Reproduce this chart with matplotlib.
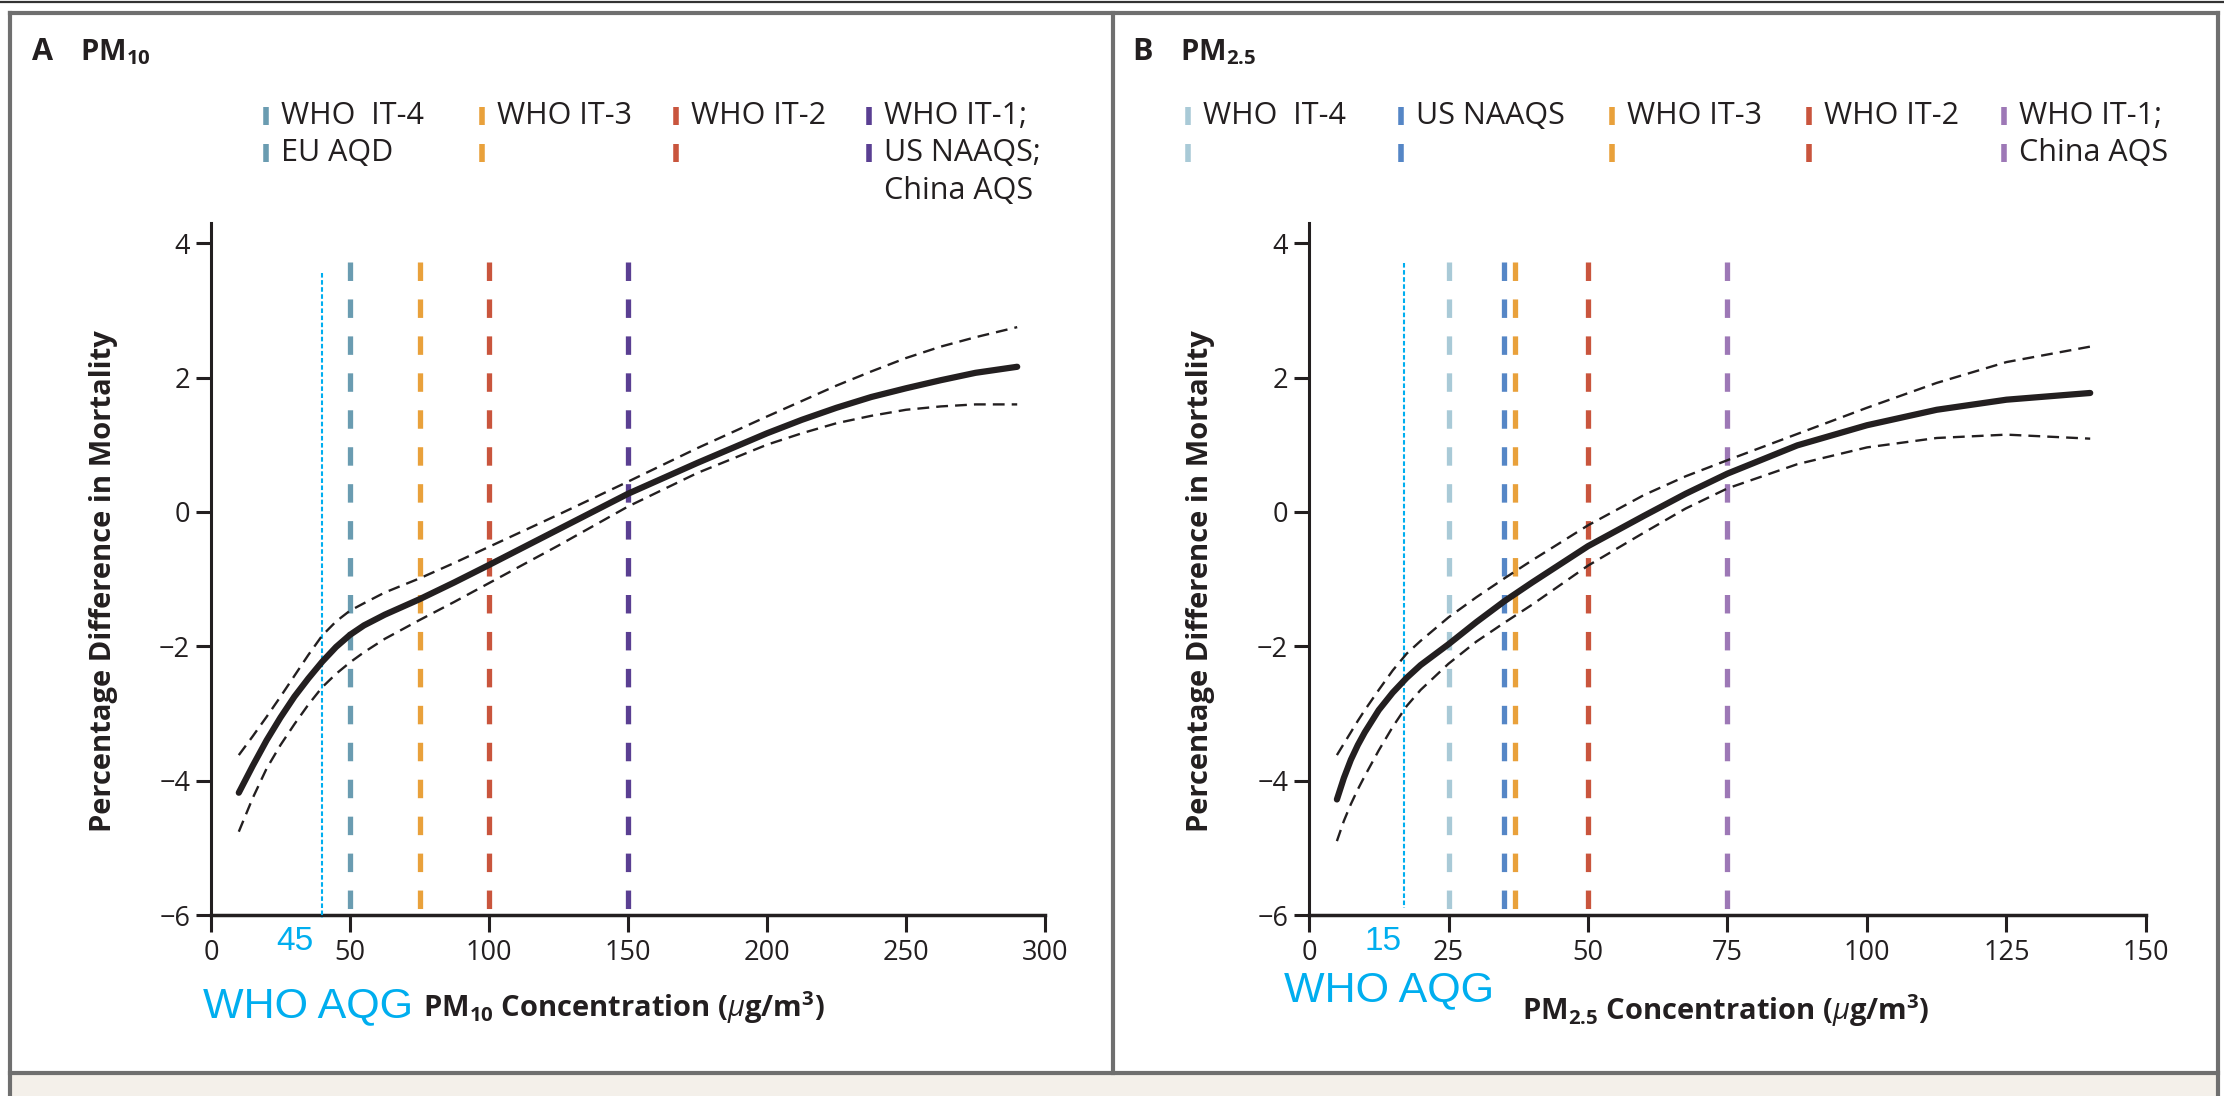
import matplotlib
matplotlib.use("Agg")
import matplotlib.pyplot as plt
from matplotlib.patches import Rectangle

plt.rcParams['font.family'] = ['Open Sans', 'DejaVu Sans']
plt.rcParams['mathtext.fontset'] = 'custom'
plt.rcParams['mathtext.rm'] = 'Open Sans'
plt.rcParams['mathtext.bf'] = 'Open Sans:bold'
plt.rcParams['mathtext.it'] = 'Open Sans:italic'

INK = "#231F20"
CYAN = "#00AEEF"

# ---- panel A: PM10 ----
pm10_x = [10, 15, 20, 25, 30, 35, 40, 45, 50, 55, 62.5, 75, 87.5, 100, 125, 150, 175, 200, 212.5,
          225, 237.5, 250, 262.5, 275, 290]
pm10_est = [-4.18, -3.78, -3.40, -3.06, -2.75, -2.48, -2.23, -2.01, -1.83, -1.69, -1.53, -1.30, -1.05,
            -0.79, -0.26, 0.27, 0.73, 1.17, 1.37, 1.55, 1.71, 1.84, 1.96, 2.07, 2.16]
pm10_upper = [-3.62, -3.34, -3.05, -2.75, -2.44, -2.13, -1.84, -1.63, -1.47, -1.36, -1.20, -0.99, -0.76,
              -0.52, -0.04, 0.45, 0.95, 1.42, 1.65, 1.88, 2.09, 2.29, 2.46, 2.60, 2.75]
pm10_lower = [-4.76, -4.26, -3.82, -3.47, -3.16, -2.87, -2.61, -2.41, -2.24, -2.09, -1.89, -1.61, -1.34,
              -1.06, -0.50, 0.08, 0.58, 1.00, 1.17, 1.32, 1.43, 1.52, 1.57, 1.60, 1.60]
pm10_std_x = [50, 75, 100, 150]
pm10_std_colors = ["#6A9CB1", "#E9A13B", "#C9553D", "#5A3F92"]
pm10_std_labels = [["WHO  IT-4", "EU AQD"], ["WHO IT-3"], ["WHO IT-2"],
                   ["WHO IT-1;", "US NAAQS;", "China AQS"]]
pm10_aqg_line = 40
pm10_aqg_label = "45"
pm10_xticks = [0, 50, 100, 150, 200, 250, 300]

# ---- panel B: PM2.5 ----
pm25_x = [5, 6.25, 7.5, 8.75, 10, 12.5, 15, 17.5, 20, 25, 30, 35, 40, 50, 60, 67.5, 75, 87.5, 100,
          112.5, 125, 140]
pm25_est = [-4.28, -3.96, -3.69, -3.47, -3.28, -2.95, -2.69, -2.47, -2.28, -1.97, -1.64, -1.33, -1.05,
            -0.51, -0.06, 0.27, 0.57, 0.99, 1.29, 1.52, 1.67, 1.77]
pm25_upper = [-3.62, -3.45, -3.28, -3.11, -2.95, -2.65, -2.36, -2.11, -1.92, -1.57, -1.27, -0.99, -0.72,
              -0.20, 0.25, 0.53, 0.77, 1.16, 1.55, 1.92, 2.23, 2.46]
pm25_lower = [-4.90, -4.60, -4.35, -4.13, -3.93, -3.55, -3.20, -2.89, -2.65, -2.26, -1.93, -1.65, -1.38,
              -0.80, -0.31, 0.05, 0.35, 0.71, 0.96, 1.10, 1.15, 1.09]
pm25_std_x = [25, 35, 37, 50, 75]
pm25_std_colors = ["#A9CAD7", "#5586C6", "#E9A13B", "#C9553D", "#9D78B6"]
pm25_std_labels = [["WHO  IT-4"], ["US NAAQS"], ["WHO IT-3"], ["WHO IT-2"], ["WHO IT-1;", "China AQS"]]
pm25_aqg_line = 17
pm25_aqg_label = "15"
pm25_xticks = [0, 25, 50, 75, 100, 125, 150]

W, H = 2224, 1096
fig = plt.figure(figsize=(W / 100, H / 100), dpi=100)

# background / frame in pixel coordinates
bg = fig.add_axes([0, 0, 1, 1], zorder=-5)
bg.set_xlim(0, W)
bg.set_ylim(H, 0)
bg.axis("off")
bg.add_patch(Rectangle((10, 1075), 2208, 30, facecolor="#F4F0EA", edgecolor="none"))
bg.plot([0, W], [1.5, 1.5], color="#333333", lw=1.6)
frame = "#6F6F6F"
bg.plot([10, 2218], [13, 13], color=frame, lw=3)
bg.plot([10, 2218], [1073, 1073], color=frame, lw=3)
bg.plot([10, 10], [13, H], color=frame, lw=3)
bg.plot([2218, 2218], [13, H], color=frame, lw=3)
bg.plot([1113, 1113], [13, 1073], color=frame, lw=3)


def legend(marker_x, colors, labels):
    rows = [116, 153, 191]
    for mx, c, labs in zip(marker_x, colors, labels):
        for ry in rows[:2]:
            bg.plot([mx, mx], [ry - 9, ry + 9], color=c, lw=4, solid_capstyle="butt")
        for ry, lab in zip(rows, labs):
            bg.text(mx + 15, ry, lab, fontsize=22, color=INK, va="center", ha="left")


def panel(rect, x, est, upper, lower, std_x, std_colors, xmax, xticks, aqg_x, aqg_top, aqg_bot):
    ax = fig.add_axes(rect)
    for sx, c in zip(std_x, std_colors):
        ax.plot([sx, sx], [3.72, -6], color=c, lw=3.8, dashes=(3.5, 3.5), zorder=2)
    ax.plot([aqg_x, aqg_x], [aqg_top, aqg_bot], color=CYAN, lw=1.5, dashes=(2.2, 1.2),
            zorder=3, clip_on=False)
    ax.plot(x, upper, color=INK, lw=1.7, dashes=(5, 3), zorder=4)
    ax.plot(x, lower, color=INK, lw=1.7, dashes=(5, 3), zorder=4)
    ax.plot(x, est, color=INK, lw=4.5, solid_capstyle="round", solid_joinstyle="round", zorder=5)
    ax.set_xlim(0, xmax)
    ax.set_ylim(-6, 4.3)
    ax.set_xticks(xticks)
    ax.set_yticks([-6, -4, -2, 0, 2, 4])
    for s in ["top", "right"]:
        ax.spines[s].set_visible(False)
    ax.spines["left"].set_linewidth(2.2)
    ax.spines["bottom"].set_linewidth(2.5)
    ax.spines["left"].set_color(INK)
    ax.spines["bottom"].set_color(INK)
    ax.tick_params(axis="x", length=12, width=2.2, pad=5, labelsize=19.5, colors=INK)
    ax.tick_params(axis="y", length=11, width=2.2, pad=4, labelsize=19.5, colors=INK)
    ax.set_facecolor("none")
    ax.set_ylabel("Percentage Difference in Mortality", fontsize=21, fontweight="bold", color=INK)
    ax.yaxis.set_label_coords(-0.112, 0.483)
    return ax


y0 = 1 - 915 / H
hh = (915 - 223) / H
axA = panel([211 / W, y0, 834 / W, hh], pm10_x, pm10_est, pm10_upper, pm10_lower,
            pm10_std_x, pm10_std_colors, 300, pm10_xticks, pm10_aqg_line, 3.55, -6.05)
axB = panel([1309 / W, y0, 837 / W, hh], pm25_x, pm25_est, pm25_upper, pm25_lower,
            pm25_std_x, pm25_std_colors, 150, pm25_xticks, pm25_aqg_line, 3.70, -5.9)

legend([266, 482, 676, 869], pm10_std_colors, pm10_std_labels)
legend([1188, 1401, 1612, 1809, 2004], pm25_std_colors, pm25_std_labels)

# panel titles
bg.text(32, 52, "A", fontsize=22, fontweight="bold", color=INK, va="center")
bg.text(80, 52, r"PM$_{\mathbf{10}}$", fontsize=21, fontweight="bold", color=INK, va="center")
bg.text(1132, 52, "B", fontsize=22, fontweight="bold", color=INK, va="center")
bg.text(1180, 52, r"PM$_{\mathbf{2.5}}$", fontsize=21, fontweight="bold", color=INK, va="center")

# guideline labels and x labels
aqg_font = ["Liberation Sans", "DejaVu Sans"]
bg.text(295, 942, pm10_aqg_label, fontsize=24, color=CYAN, ha="center", va="center", family=aqg_font)
bg.text(1383, 942, pm25_aqg_label, fontsize=24, color=CYAN, ha="center", va="center", family=aqg_font)
bg.text(203, 1006, "WHO AQG", fontsize=31, color=CYAN, ha="left", va="center", family=aqg_font)
bg.text(1284, 990, "WHO AQG", fontsize=31, color=CYAN, ha="left", va="center", family=aqg_font)
bg.text(423, 1008, r"PM$_{\mathbf{10}}$ Concentration ($\mu$g/m$^{\mathbf{3}}$)", fontsize=21,
        fontweight="bold", color=INK, ha="left", va="center")
bg.text(1522, 1011, r"PM$_{\mathbf{2.5}}$ Concentration ($\mu$g/m$^{\mathbf{3}}$)", fontsize=21,
        fontweight="bold", color=INK, ha="left", va="center")

fig.savefig("out.png", dpi=100, facecolor="white")
